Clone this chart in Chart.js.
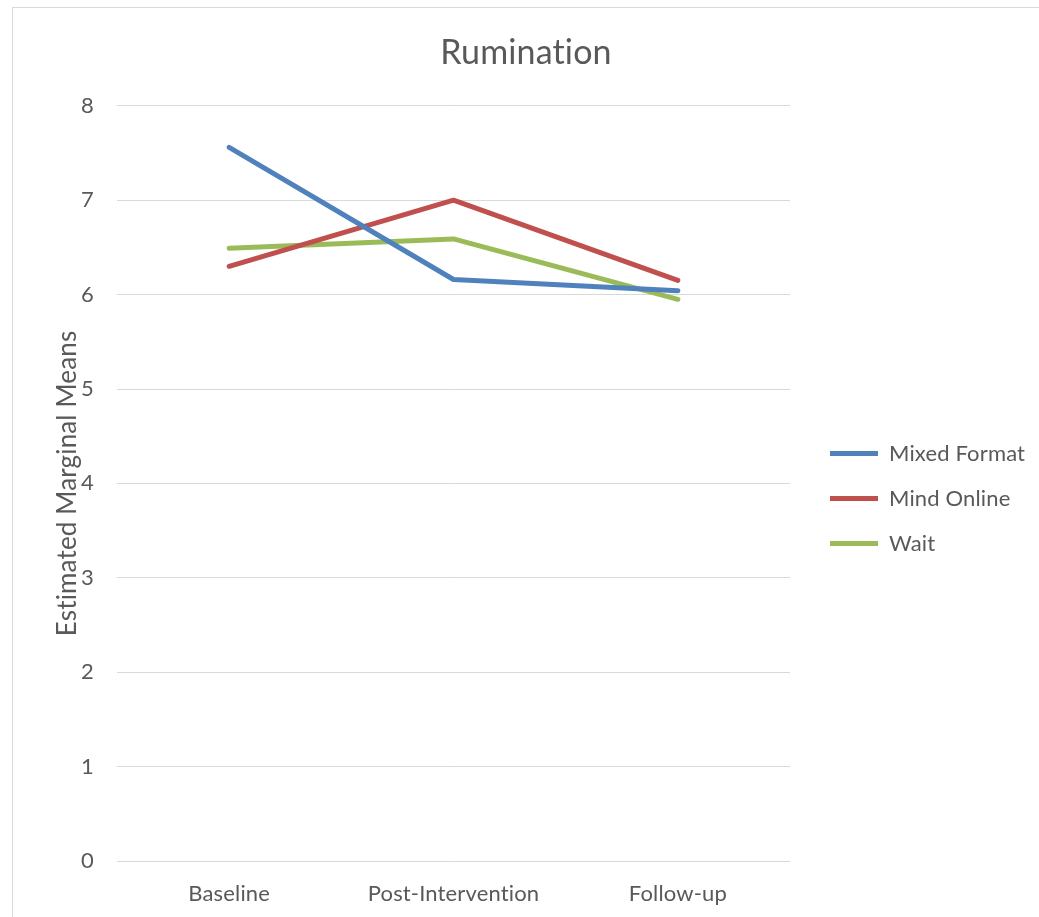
<!DOCTYPE html>
<html>
<head>
<meta charset="utf-8">
<title>Rumination</title>
<script src="https://cdn.jsdelivr.net/npm/chart.js@4"></script>
<style>
  html, body { margin: 0; padding: 0; background: #ffffff; overflow: hidden; }
  #frame {
    position: absolute; left: 12px; top: 7px;
    width: 1040px; height: 920px;
    border: 1px solid #d9d9d9; background: #ffffff;
  }
  #chart { display: block; }
</style>
</head>
<body>
<div id="frame"><canvas id="chart" width="1026" height="909"></canvas></div>
<script>
// Time points on the x axis
const timePoints = ['Baseline', 'Post-Intervention', 'Follow-up'];

// Estimated marginal means per group
const mixedFormat = [7.56, 6.16, 6.04];
const mindOnline  = [6.30, 7.00, 6.15];
const waitList    = [6.49, 6.59, 5.95];

// Y axis tick values
const yTicks = [0, 1, 2, 3, 4, 5, 6, 7, 8];

const textColor = '#595959';
const fontFamily = 'Lato, "Open Sans", sans-serif';

function series(label, data, color) {
  return {
    label, data,
    borderColor: color,
    backgroundColor: color,
    borderWidth: 5,
    borderCapStyle: 'round',
    borderJoinStyle: 'round',
    pointRadius: 0,
    pointHoverRadius: 0,
    pointStyle: 'line',
    tension: 0,
    fill: false
  };
}

// Fixed legend width, and the legend block placed a little right of and below its default slot
const legendNudge = {
  id: 'legendNudge',
  beforeInit(chart) {
    const lg = chart.legend;
    const fit = lg.fit;
    lg.fit = function () { fit.call(this); this.width = 249; };
  },
  afterLayout(chart) {
    const lg = chart.legend;
    const dx = 17, dy = 36;
    lg.left += dx; lg.right += dx;
    lg.top += dy; lg.bottom += dy;
  },
  beforeDraw(chart) {
    // a hair of tracking keeps letter pairs such as "ti" as separate glyphs
    chart.ctx.letterSpacing = '0.15px';
  }
};

new Chart(document.getElementById('chart'), {
  type: 'line',
  data: {
    labels: timePoints,
    datasets: [
      series('Mixed Format', mixedFormat, '#4F81BD'),
      series('Mind Online', mindOnline, '#C0504D'),
      series('Wait', waitList, '#9BBB59')
    ]
  },
  options: {
    responsive: false,
    animation: false,
    devicePixelRatio: 1,
    layout: { padding: { left: 0, right: 0, top: 0, bottom: 0 } },
    plugins: {
      title: {
        display: true,
        text: 'Rumination',
        color: textColor,
        font: { family: fontFamily, size: 34, weight: 'normal' },
        padding: { top: 25, bottom: 32 }
      },
      legend: {
        display: true,
        position: 'right',
        align: 'center',
        labels: {
          usePointStyle: true,
          pointStyleWidth: 48,
          color: textColor,
          font: { family: fontFamily, size: 22 },
          padding: 23
        }
      },
      tooltip: { enabled: false }
    },
    scales: {
      x: {
        offset: true,
        grid: { display: false, drawTicks: false },
        border: { display: false },
        ticks: {
          color: textColor,
          font: { family: fontFamily, size: 22 },
          padding: 20,
          maxRotation: 0
        },
        afterFit(s) { s.height = 56; }
      },
      y: {
        min: yTicks[0],
        max: yTicks[yTicks.length - 1],
        grid: { color: '#d9d9d9', lineWidth: 1, drawTicks: false },
        border: { display: false },
        afterBuildTicks(s) { s.ticks = yTicks.map(v => ({ value: v })); },
        ticks: {
          color: textColor,
          font: { family: fontFamily, size: 22 },
          padding: 23
        },
        title: {
          display: true,
          text: 'Estimated Marginal Means',
          color: textColor,
          font: { family: fontFamily, size: 26 },
          padding: { top: 39, bottom: 0 }
        },
        afterFit(s) { s.width = 104; }
      }
    }
  },
  plugins: [legendNudge]
});
</script>
</body>
</html>
